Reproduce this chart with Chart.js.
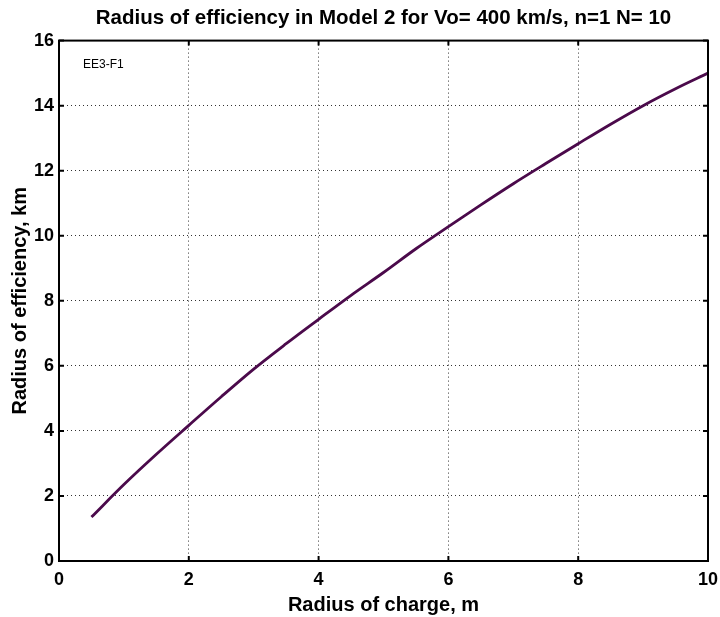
<!DOCTYPE html>
<html>
<head>
<meta charset="utf-8">
<script src="https://cdn.jsdelivr.net/npm/chart.js@4/dist/chart.umd.min.js"></script>
<style>
  html, body { margin: 0; padding: 0; background: #fff; }
  #wrap { width: 720px; height: 617px; }
</style>
</head>
<body>
<div id="wrap"><canvas id="c" width="720" height="617"></canvas></div>
<script>
const chartTitle = "Radius of efficiency in Model 2 for Vo= 400 km/s, n=1 N= 10";
const xAxisTitle = "Radius of charge, m";
const yAxisTitle = "Radius of efficiency, km";
const annotationText = "EE3-F1";
const chargeRadius = [0.5, 1.0, 1.5, 2.0, 2.5, 3.0, 3.5, 4.0, 4.5, 5.0, 5.5, 6.0, 6.5, 7.0, 7.5, 8.0, 8.5, 9.0, 9.5, 10.0];
const efficiencyRadius = [1.35, 2.35, 3.28, 4.17, 5.05, 5.9, 6.68, 7.43, 8.17, 8.87, 9.6, 10.28, 10.95, 11.6, 12.22, 12.83, 13.43, 14.0, 14.52, 15.0];
const xTicks = [0, 2, 4, 6, 8, 10];
const yTicks = [0, 2, 4, 6, 8, 10, 12, 14, 16];

const points = chargeRadius.map((x, i) => ({ x: x, y: efficiencyRadius[i] }));
const FONT = '"Liberation Sans", Arial, sans-serif';

const frameAndTicks = {
  id: 'frameAndTicks',
  afterDatasetsDraw(chart) {
    const { ctx, chartArea: a, scales } = chart;
    ctx.save();
    ctx.strokeStyle = '#000';
    ctx.lineWidth = 2;
    ctx.strokeRect(a.left, a.top, a.right - a.left, a.bottom - a.top);
    const L = 5;
    ctx.beginPath();
    xTicks.forEach(v => {
      const px = scales.x.getPixelForValue(v);
      ctx.moveTo(px, a.bottom); ctx.lineTo(px, a.bottom - L);
      ctx.moveTo(px, a.top); ctx.lineTo(px, a.top + L);
    });
    yTicks.forEach(v => {
      const py = scales.y.getPixelForValue(v);
      ctx.moveTo(a.left, py); ctx.lineTo(a.left + L, py);
      ctx.moveTo(a.right, py); ctx.lineTo(a.right - L, py);
    });
    ctx.stroke();
    ctx.fillStyle = '#000';
    ctx.font = '12px ' + FONT;
    ctx.textBaseline = 'middle';
    ctx.textAlign = 'left';
    ctx.fillText(annotationText, scales.x.getPixelForValue(0.37), scales.y.getPixelForValue(15.25));
    ctx.restore();
  }
};

new Chart(document.getElementById('c'), {
  type: 'line',
  data: {
    datasets: [{
      data: points,
      borderColor: '#4b0a4b',
      borderWidth: 2.8,
      pointRadius: 0,
      fill: false,
      cubicInterpolationMode: 'monotone'
    }]
  },
  options: {
    responsive: false,
    animation: false,
    devicePixelRatio: 1,
    layout: { padding: { left: 0, right: 12, top: 0, bottom: 0 } },
    plugins: {
      legend: { display: false },
      tooltip: { enabled: false },
      title: {
        display: true,
        fullSize: false,
        text: chartTitle,
        color: '#000',
        font: { family: FONT, size: 20.5, weight: 'bold' },
        padding: { top: 6, bottom: 10 }
      }
    },
    scales: {
      x: {
        type: 'linear',
        min: 0, max: 10,
        afterBuildTicks(s) { s.ticks = xTicks.map(v => ({ value: v })); },
        afterFit(s) { s.height = 56; s.paddingLeft = 0; s.paddingRight = 0; },
        grid: {
          display: true,
          drawTicks: false,
          color: ctx => (ctx.tick && (ctx.tick.value === 0 || ctx.tick.value === 10)) ? 'rgba(0,0,0,0)' : '#333',
          lineWidth: 1
        },
        border: { display: false, dash: [1, 3] },
        ticks: {
          color: '#000',
          padding: 8,
          font: { family: FONT, size: 18, weight: 'bold' }
        },
        title: {
          display: true,
          text: xAxisTitle,
          color: '#000',
          padding: { top: 0, bottom: 0 },
          font: { family: FONT, size: 20, weight: 'bold' }
        }
      },
      y: {
        type: 'linear',
        min: 0, max: 16,
        afterBuildTicks(s) { s.ticks = yTicks.map(v => ({ value: v })); },
        afterFit(s) { s.width = 59; },
        grid: {
          display: true,
          drawTicks: false,
          color: ctx => (ctx.tick && (ctx.tick.value === 0 || ctx.tick.value === 16)) ? 'rgba(0,0,0,0)' : '#333',
          lineWidth: 1
        },
        border: { display: false, dash: [1, 3] },
        ticks: {
          color: '#000',
          padding: 5,
          font: { family: FONT, size: 18, weight: 'bold' }
        },
        title: {
          display: true,
          text: yAxisTitle,
          color: '#000',
          padding: { top: 8, bottom: 0 },
          font: { family: FONT, size: 20, weight: 'bold' }
        }
      }
    }
  },
  plugins: [frameAndTicks]
});
</script>
</body>
</html>
